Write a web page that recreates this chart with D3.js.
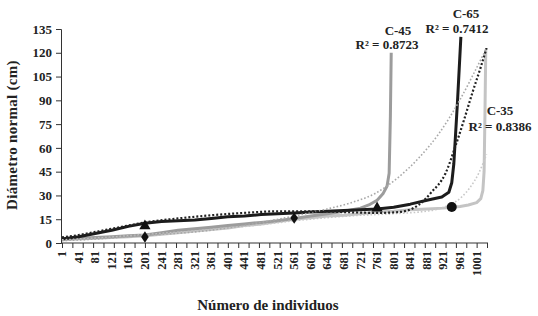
<!DOCTYPE html>
<html>
<head>
<meta charset="utf-8">
<script src="https://cdn.jsdelivr.net/npm/d3@7/dist/d3.min.js"></script>
<style>
  html, body { margin: 0; padding: 0; background: #fff; }
  svg text { font-family: "Liberation Serif", "Times New Roman", serif; font-weight: bold; fill: #222; }
</style>
</head>
<body>
<svg width="538" height="316"></svg>
<script>
// values: [individuo, diametro (cm)]
var c35 = [[1,2],[41,2.5],[81,3],[121,3.5],[161,4],[201,4.5],[241,5.5],[281,6.5],[321,7.5],[361,8.5],[401,9.5],[441,11],[481,12],[521,13.5],[561,15],[601,16],[641,17],[681,17.5],[721,18.5],[761,19.5],[801,20],[841,21],[881,21.5],[921,22],[941,22.5],[961,23],[981,24],[1001,25.5],[1011,28],[1016,33],[1019,45],[1021,80],[1023,122]];
var c45 = [[1,2.5],[41,3],[81,3.5],[121,4],[161,4.5],[201,5],[241,6.5],[281,8],[321,9],[361,10],[401,11],[441,12],[481,13],[521,14],[561,15.5],[601,17],[641,18.5],[681,20],[721,22],[741,24],[761,27],[775,31],[785,36],[790,44],[793,80],[795,120]];
var c65 = [[1,2.5],[41,4],[81,6],[121,8],[161,10.5],[201,12.5],[241,13.5],[281,14],[321,14.5],[361,15.5],[401,16.5],[441,17],[481,18],[521,18.5],[561,19],[601,19.5],[641,20],[681,20.5],[721,21],[761,21.5],[801,22.5],[841,24.5],[881,27],[917,29],[934,32],[941,38],[946,50],[955,90],[963,130]];

// trend lines
var trend35 = [[1,2],[81,3],[161,4.5],[241,6],[321,7.5],[401,9.5],[481,11.5],[561,14],[641,16],[721,17.5],[801,18.5],[861,19.5],[901,21],[931,23.5],[950,26],[965,29],[985,35],[1006,44],[1025,56]];
var trend45 = [[1,1.5],[81,2.5],[161,4],[241,5.5],[321,7],[401,9.5],[481,13],[561,17],[641,21.5],[693,25],[758,31.5],[813,41.6],[861,53.5],[910,69],[960,90],[1000,110],[1025,123]];
var trend65 = [[1,3.5],[41,5],[81,7],[121,9],[161,11],[201,13],[281,15.5],[361,17.5],[441,19],[521,20],[601,20],[681,19.5],[761,19],[813,19.5],[861,24],[892,32],[926,44],[951,62],[971,78],[991,95],[1011,111],[1025,123]];

var triangles = [[201,10.7],[761,22]];
var diamonds = [[201,3.8],[561,15.7]];
var circles = [[941,22.7]];

var yTicks = [0,15,30,45,60,75,90,105,120,135];
var xLabels = [1,41,81,121,161,201,241,281,321,361,401,441,481,521,561,601,641,681,721,761,801,841,881,921,961,1001];
var xTickMarks = [1,26,51,76,101,126,151,176,201,226,251,276,301,326,351,376,401,426,451,476,501,526,551,576,601,626,651,676,701,726,751,776,801,826,851,876,901,926,951,976,1001,1026];

var labels = [
  {t:"C-45", x:398, y:35},
  {t:"R² = 0.8723", x:387, y:49},
  {t:"C-65", x:466, y:18},
  {t:"R² = 0.7412", x:457, y:33},
  {t:"C-35", x:500, y:115},
  {t:"R² = 0.8386", x:500, y:131}
];

var svg = d3.select("svg");
var x = d3.scaleLinear().domain([1, 1026]).range([62, 487]);
var y = d3.scaleLinear().domain([0, 135]).range([243, 29]);

var line = d3.line()
  .x(function(d){ return x(d[0]); })
  .y(function(d){ return y(d[1]); });

var smooth = d3.line()
  .curve(d3.curveMonotoneX)
  .x(function(d){ return x(d[0]); })
  .y(function(d){ return y(d[1]); });

// axes
var yAxis = d3.axisLeft(y).tickValues(yTicks).tickSize(5).tickPadding(4);
var gy = svg.append("g").attr("transform", "translate(61,0)").call(yAxis);
gy.selectAll("text").style("font-size", "13px");

var xAxis = d3.axisBottom(x).tickValues(xTickMarks).tickSize(5).tickFormat("");
var gx = svg.append("g").attr("transform", "translate(0,243)").call(xAxis);
gx.select(".domain").attr("d", "M61,0H488");

svg.append("g").selectAll("text")
  .data(xLabels)
  .enter()
  .append("text")
  .attr("transform", function(d){ return "translate(" + (x(d) + 4) + ",251) rotate(-90)"; })
  .attr("text-anchor", "end")
  .style("font-size", "12.5px")
  .text(function(d){ return d; });

svg.selectAll(".domain, .tick line").attr("stroke", "#333").attr("stroke-width", 1);

// series
var series = [
  {data:c35, color:"#c4c4c4", w:3},
  {data:c45, color:"#9c9c9c", w:3},
  {data:c65, color:"#1c1c1c", w:3}
];
svg.append("g").selectAll("path")
  .data(series)
  .enter()
  .append("path")
  .attr("d", function(d){ return line(d.data); })
  .attr("fill", "none")
  .attr("stroke", function(d){ return d.color; })
  .attr("stroke-width", function(d){ return d.w; })
  .attr("stroke-linejoin", "round");

var trends = [
  {data:trend35, color:"#c8c8c8", w:1.6, dash:"1.6,2"},
  {data:trend45, color:"#a8a8a8", w:1.6, dash:"1.6,2"},
  {data:trend65, color:"#222", w:2.2, dash:"2,2"}
];
svg.append("g").selectAll("path")
  .data(trends)
  .enter()
  .append("path")
  .attr("d", function(d){ return smooth(d.data); })
  .attr("fill", "none")
  .attr("stroke", function(d){ return d.color; })
  .attr("stroke-width", function(d){ return d.w; })
  .attr("stroke-dasharray", function(d){ return d.dash; });

// markers
var sym = svg.append("g");
sym.selectAll(".tri").data(triangles).enter().append("path")
  .attr("transform", function(d){ return "translate(" + x(d[0]) + "," + y(d[1]) + ")"; })
  .attr("d", d3.symbol().type(d3.symbolTriangle).size(55))
  .attr("fill", "#111");
sym.selectAll(".dia").data(diamonds).enter().append("path")
  .attr("transform", function(d){ return "translate(" + x(d[0]) + "," + y(d[1]) + ") scale(0.8,1.2) rotate(45)"; })
  .attr("d", d3.symbol().type(d3.symbolSquare).size(45))
  .attr("fill", "#111");
sym.selectAll(".cir").data(circles).enter().append("circle")
  .attr("cx", function(d){ return x(d[0]); })
  .attr("cy", function(d){ return y(d[1]); })
  .attr("r", 5)
  .attr("fill", "#111");

// annotations
svg.append("g").selectAll("text")
  .data(labels)
  .enter()
  .append("text")
  .attr("x", function(d){ return d.x; })
  .attr("y", function(d){ return d.y; })
  .attr("text-anchor", "middle")
  .style("font-size", "13px")
  .text(function(d){ return d.t; });

// axis titles
svg.append("text")
  .attr("transform", "translate(17,135) rotate(-90)")
  .attr("text-anchor", "middle")
  .style("font-size", "15px")
  .style("letter-spacing", "0.3px")
  .text("Diámetro normal (cm)");

svg.append("text")
  .attr("x", 268)
  .attr("y", 310)
  .attr("text-anchor", "middle")
  .style("font-size", "15px")
  .text("Número de individuos");
</script>
</body>
</html>
